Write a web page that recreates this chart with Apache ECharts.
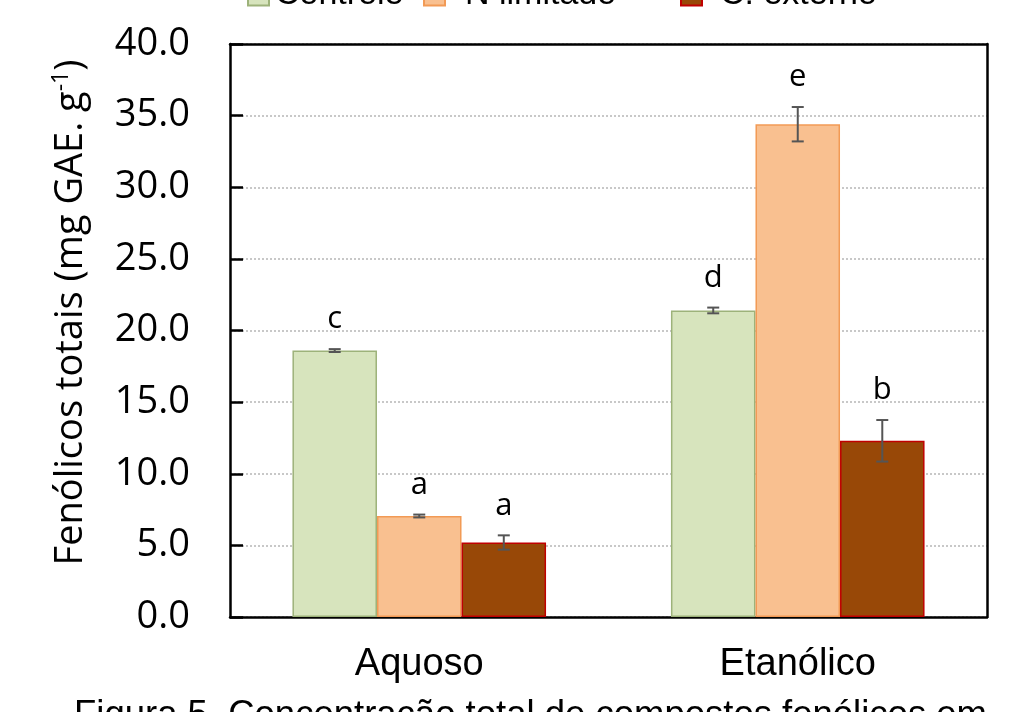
<!DOCTYPE html>
<html>

	<head>
		<meta charset="UTF-8">
		<title></title>
		<script src="https://cdn.jsdelivr.net/npm/echarts@6/dist/echarts.min.js"></script>
		<style>
			html,
			body {
				width: 100%;
				height: 100%;
				margin: 0;
				padding: 0;
				background: #ffffff;
			}

			#chart {
				width: 1027px;
				height: 712px;
			}
		</style>
	</head>

	<body>
		<div id="chart"></div>
	</body>
	<script>
		var categories = ['Aquoso', 'Etanólico'];
		var groupNames = ['Controle', 'N limitado', 'C. externo'];
		var controleVals = [18.6, 21.4];
		var nLimitadoVals = [7.05, 34.4];
		var cExternoVals = [5.2, 12.3];
		var controleErr = [0.1, 0.2];
		var nLimitadoErr = [0.1, 1.2];
		var cExternoErr = [0.5, 1.45];
		var controleLetters = ['c', 'd'];
		var nLimitadoLetters = ['a', 'e'];
		var cExternoLetters = ['a', 'b'];
		var yTicks = [0, 5, 10, 15, 20, 25, 30, 35, 40];

		var fills = ['#d7e4bd', '#f9c090', '#984807'];
		var borders = ['#9db27a', '#f29a55', '#c00000'];
		var catGap = 0.33;

		var values = [controleVals, nLimitadoVals, cExternoVals];
		var errs = [controleErr, nLimitadoErr, cExternoErr];
		var letters = [controleLetters, nLimitadoLetters, cExternoLetters];

		var myChart = echarts.init(document.getElementById('chart'));

		function barSeries(k) {
			return {
				name: groupNames[k],
				type: 'bar',
				data: values[k],
				barGap: '0%',
				barCategoryGap: (catGap * 100) + '%',
				itemStyle: {
					color: fills[k],
					borderColor: borders[k],
					borderWidth: 1.5
				},
				z: 2
			};
		}

		function errSeries(k) {
			var data = [];
			for(var i = 0; i < categories.length; i++) {
				data.push([i, values[k][i], errs[k][i]]);
			}
			return {
				type: 'custom',
				data: data,
				encode: { x: 0, y: 1 },
				z: 5,
				silent: true,
				renderItem: function(params, api) {
					var cat = api.value(0);
					var v = api.value(1);
					var e = api.value(2);
					var bandW = api.size([1, 0])[0];
					var barW = bandW * (1 - catGap) / 3;
					var off = (k - 1) * barW;
					var hi = api.coord([cat, v + e]);
					var lo = api.coord([cat, v - e]);
					var x = hi[0] + off;
					var st = { stroke: '#555555', lineWidth: 2 };
					return {
						type: 'group',
						children: [{
							type: 'line',
							shape: { x1: x, y1: hi[1], x2: x, y2: lo[1] },
							style: st
						}, {
							type: 'line',
							shape: { x1: x - 6, y1: hi[1], x2: x + 6, y2: hi[1] },
							style: st
						}, {
							type: 'line',
							shape: { x1: x - 6, y1: lo[1], x2: x + 6, y2: lo[1] },
							style: st
						}, {
							type: 'text',
							style: {
								x: x,
								y: hi[1] - 14,
								text: letters[k][params.dataIndex],
								fill: '#000',
								font: '31px "Open Sans"',
								textAlign: 'center',
								textVerticalAlign: 'bottom'
							}
						}]
					};
				}
			};
		}

		var option = {
			animation: false,
			backgroundColor: '#ffffff',
			legend: [0, 1, 2].map(function(k) {
				var lefts = [242, 418, 675];
				var pads = [1, 15, 13];
				return {
					data: [groupNames[k]],
					left: lefts[k],
					top: -27,
					icon: 'rect',
					itemWidth: 21,
					itemHeight: 21,
					textStyle: {
						fontFamily: 'Liberation Sans',
						fontSize: 34,
						color: '#000',
						padding: [0, 0, 0, pads[k]]
					}
				};
			}),
			grid: {
				left: 230,
				right: 40,
				top: 44,
				bottom: 95,
				containLabel: false
			},
			xAxis: [{
				type: 'category',
				data: categories,
				axisLine: { lineStyle: { color: '#000', width: 2.5 } },
				axisTick: { show: false },
				axisLabel: {
					margin: 29,
					fontFamily: 'Liberation Sans',
					fontSize: 38,
					color: '#000'
				}
			}, {
				type: 'category',
				position: 'top',
				data: categories,
				axisLine: { show: true, onZero: false, lineStyle: { color: '#000', width: 2.5 } },
				axisTick: { show: false },
				axisLabel: { show: false }
			}],
			yAxis: [{
				type: 'value',
				min: yTicks[0],
				max: yTicks[yTicks.length - 1],
				interval: yTicks[1] - yTicks[0],
				name: '{a|Fenólicos totais (mg GAE. g}{s|-1}{a|)}',
				nameLocation: 'middle',
				nameGap: 138,
				nameRotate: 90,
				nameTextStyle: {
					padding: [0, 0, 0, 36],
					rich: {
						a: { fontFamily: 'Open Sans', fontSize: 38, color: '#000', lineHeight: 42 },
						s: { fontFamily: 'Open Sans', fontSize: 23, color: '#000', verticalAlign: 'top', lineHeight: 42 }
					}
				},
				axisLine: { show: true, lineStyle: { color: '#000', width: 2.5 } },
				axisTick: { show: true, inside: true, length: 13, lineStyle: { color: '#000', width: 2.5 } },
				axisLabel: {
					margin: 40,
					fontFamily: 'Open Sans',
					fontSize: 38,
					color: '#000',
					formatter: function(v) { return v.toFixed(1); }
				},
				splitLine: { lineStyle: { color: '#c8c8c8', width: 2, type: [2, 2] } }
			}, {
				type: 'value',
				position: 'right',
				min: yTicks[0],
				max: yTicks[yTicks.length - 1],
				interval: yTicks[1] - yTicks[0],
				axisLine: { show: true, onZero: false, lineStyle: { color: '#000', width: 2.5 } },
				axisTick: { show: false },
				axisLabel: { show: false },
				splitLine: { show: false }
			}],
			graphic: [{
				type: 'text',
				left: 74,
				top: 697,
				style: {
					text: 'Figura 5. Concentração total de compostos fenólicos em',
					font: '36.5px "Liberation Sans"',
					fill: '#000'
				}
			}],
			series: [barSeries(0), barSeries(1), barSeries(2), errSeries(0), errSeries(1), errSeries(2)]
		};
		myChart.setOption(option);
	</script>

</html>
